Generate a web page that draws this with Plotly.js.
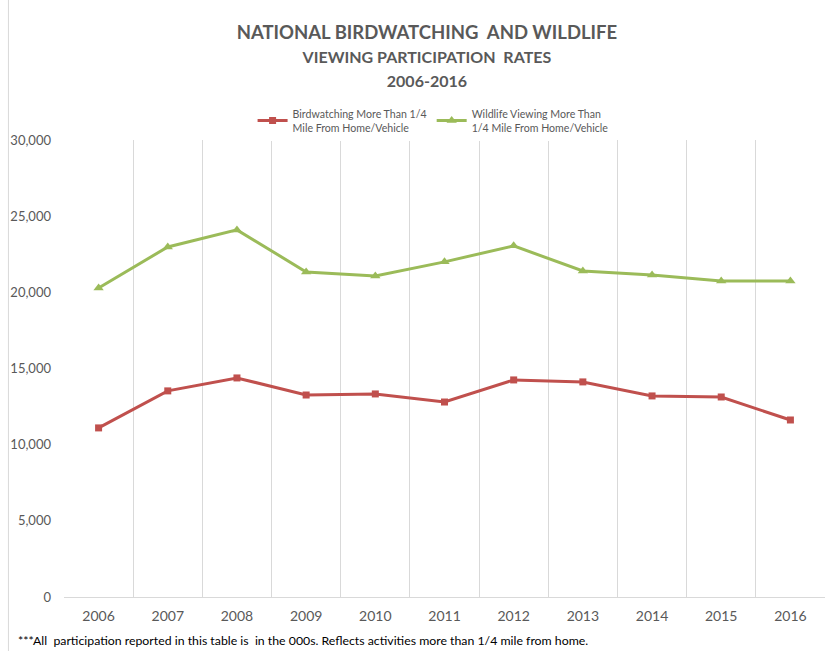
<!DOCTYPE html>
<html><head><meta charset="utf-8">
<script src="https://cdn.plot.ly/plotly-3.0.1.min.js"></script>
<style>body{margin:0;background:#fff}#chart{width:829px;height:651px}</style>
</head><body><div id="chart"></div>
<script>
const years = ['2006','2007','2008','2009','2010','2011','2012','2013','2014','2015','2016'];
const birdwatching = [11100, 13530, 14380, 13260, 13330, 12800, 14250, 14120, 13200, 13130, 11620];
const wildlife = [20290, 22980, 24100, 21340, 21080, 22000, 23050, 21400, 21140, 20750, 20750];
const yTicks = [0, 5000, 10000, 15000, 20000, 25000, 30000];

const font = 'Lato, "Open Sans", sans-serif';
const traces = [
  {x: years, y: birdwatching, type: 'scatter', mode: 'lines+markers',
   name: 'Birdwatching More Than 1/4<br>Mile From Home/Vehicle',
   line: {color: '#C0504D', width: 3}, marker: {symbol: 'square', size: 7, color: '#C0504D'}},
  {x: years, y: wildlife, type: 'scatter', mode: 'lines+markers',
   name: 'Wildlife Viewing More Than<br>1/4 Mile From Home/Vehicle',
   line: {color: '#9BBB59', width: 3}, marker: {symbol: 'triangle-up', size: 9, color: '#9BBB59'}}
];
const layout = {
  width: 829, height: 651,
  margin: {l: 64, r: 4, t: 140, b: 54},
  paper_bgcolor: '#fff', plot_bgcolor: '#fff',
  font: {family: font, color: '#595959'},
  title: {text: '<b>NATIONAL BIRDWATCHING  AND WILDLIFE</b><br><b><span style="font-size:16px">VIEWING PARTICIPATION  RATES</span></b><br><b><span style="font-size:16px">2006-2016</span></b>',
          x: 0.515, xanchor: 'center', y: 0.940, yanchor: 'top',
          font: {family: font, size: 18.5, color: '#595959'}},
  showlegend: true,
  legend: {orientation: 'h', x: 0.485, xanchor: 'center', y: 1.087, yanchor: 'top',
           font: {family: font, size: 10.6, color: '#595959'}, itemwidth: 30, tracegroupgap: 0},
  xaxis: {type: 'category', tickson: 'boundaries', showgrid: true, gridcolor: '#d9d9d9', gridwidth: 1,
          ticks: '', showline: true, linecolor: '#d9d9d9', linewidth: 1, zeroline: false,
          tickfont: {family: font, size: 14, color: '#595959'}, ticklabelstandoff: 6,
          range: [-0.5, 10.5]},
  yaxis: {range: [0, 30000], tickvals: yTicks, tickformat: ',d', showgrid: false, zeroline: false,
          showline: false, ticks: '', tickfont: {family: font, size: 13, color: '#595959'},
          ticklabelstandoff: 12},
  shapes: [{type: 'line', xref: 'paper', yref: 'paper', x0: -0.073, x1: -0.073, y0: -0.12, y1: 1.31,
            line: {color: '#d9d9d9', width: 1}}],
  annotations: [{text: '***All  participation reported in this table is  in the 000s. Reflects activities more than 1/4 mile from home.',
                 xref: 'paper', yref: 'paper', x: -0.063, xanchor: 'left', y: -0.096, yanchor: 'middle',
                 showarrow: false, font: {family: font, size: 12.3, color: '#000'}}]
};
Plotly.newPlot('chart', traces, layout, {displayModeBar: false, staticPlot: true});
</script></body></html>
